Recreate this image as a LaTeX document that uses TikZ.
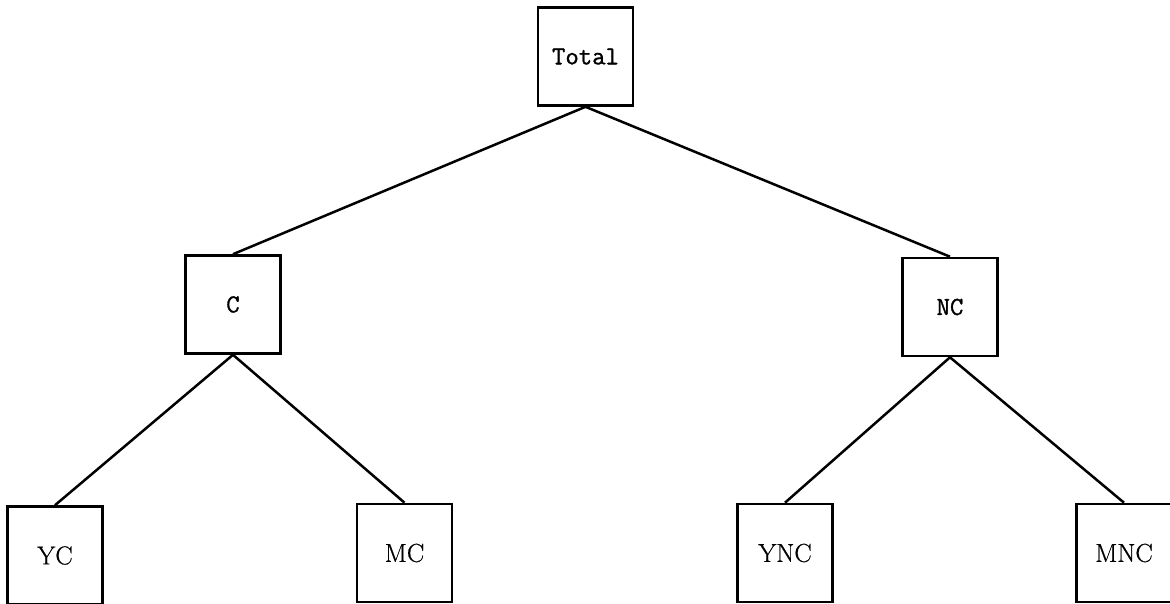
\documentclass[tikz,border=0pt]{standalone}
\usepackage{fontspec}
\newfontfamily\boxmono[FakeBold=1.2]{Latin Modern Mono}
\newfontfamily\boxroman[FakeBold=0.6]{Latin Modern Roman}
\begin{document}
\begin{tikzpicture}[x=1pt,y=-1pt,
  box/.style={draw, line width=2.6pt, inner sep=0pt, minimum width=95pt, minimum height=98pt},
  tw/.style={font=\fontsize{26}{30}\selectfont\boxmono},
  rm/.style={font=\fontsize{26}{30}\selectfont\boxroman},
  link/.style={line width=2.5pt}]
\useasboundingbox (0,0) rectangle (1170,604);
\clip (0,0) rectangle (1170,604);
\node[box,tw] (total) at (585.5,56.5) {Total};
\node[box,tw] (c) at (233,304.5) {C};
\node[box,tw] (nc) at (950,307) {NC};
\node[box,rm] (yc) at (55,555.5) {YC};
\node[box,rm] (mc) at (404.5,553) {MC};
\node[box,rm] (ync) at (785,553) {YNC};
\node[box,rm] (mnc) at (1124,553) {MNC};
\draw[link] (total.south) -- (c.north);
\draw[link] (total.south) -- (nc.north);
\draw[link] (c.south) -- (yc.north);
\draw[link] (c.south) -- (mc.north);
\draw[link] (nc.south) -- (ync.north);
\draw[link] (nc.south) -- (mnc.north);
\end{tikzpicture}
\end{document}
